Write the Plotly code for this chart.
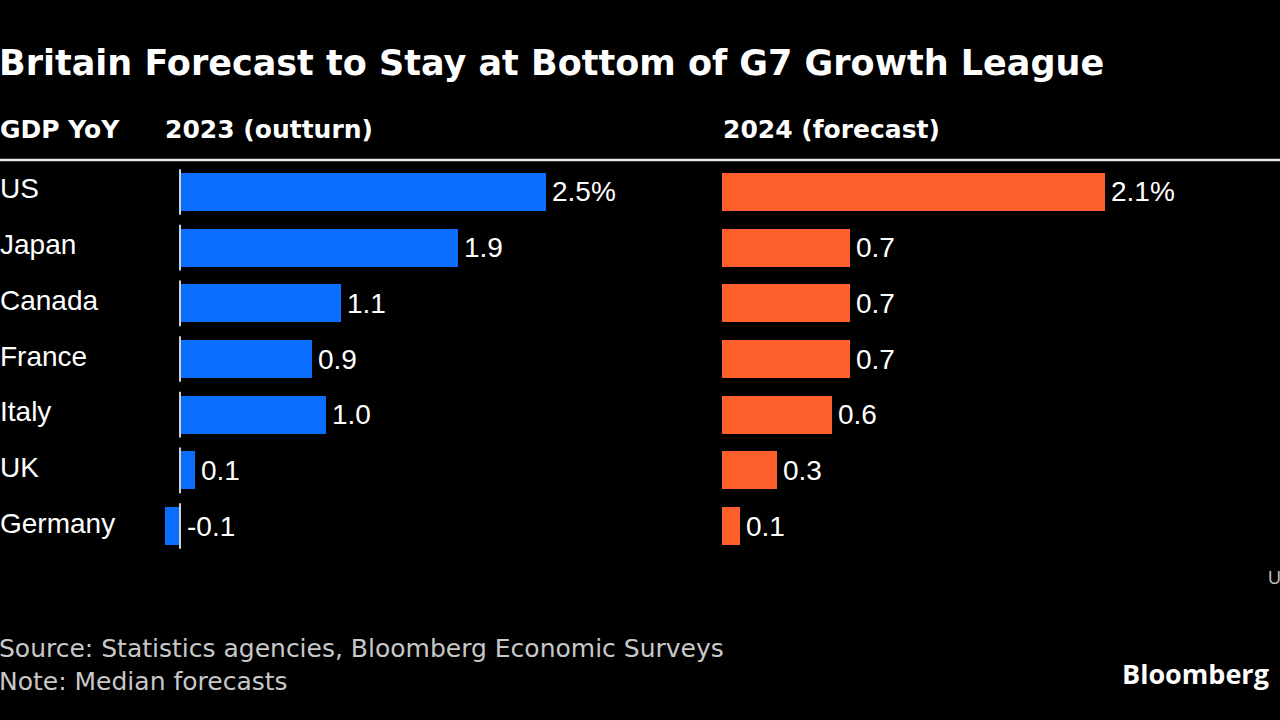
import plotly.graph_objects as go

countries = ["US", "Japan", "Canada", "France", "Italy", "UK", "Germany"]
gdp_2023 = [2.5, 1.9, 1.1, 0.9, 1.0, 0.1, -0.1]
gdp_2024 = [2.1, 0.7, 0.7, 0.7, 0.6, 0.3, 0.1]
labels_2023 = ["2.5%", "1.9", "1.1", "0.9", "1.0", "0.1", "-0.1"]
labels_2024 = ["2.1%", "0.7", "0.7", "0.7", "0.6", "0.3", "0.1"]

W, H = 1280, 720
BLUE = "#0A6EFF"
ORANGE = "#FF5F2B"
BOLD = "DejaVu Sans, Verdana, sans-serif"
REG = "Liberation Sans, Arial, Helvetica, sans-serif"

idx = list(range(len(countries)))

fig = go.Figure()
fig.add_trace(go.Bar(x=gdp_2023, y=idx, orientation="h", marker=dict(color=BLUE, line=dict(width=0)),
                     width=0.68, xaxis="x", yaxis="y", hoverinfo="skip"))
fig.add_trace(go.Bar(x=gdp_2024, y=idx, orientation="h", marker=dict(color=ORANGE, line=dict(width=0)),
                     width=0.68, xaxis="x2", yaxis="y", hoverinfo="skip"))

def px_x(p):
    return p / W

def px_y(p):
    return 1 - p / H

l0, l1, lz, ls = 150, 640, 180, 146.4
r0, r1, rz, rs = 700, 1280, 722, 182.5
top, bot, yc0, ysp = 165, 565, 192, 55.67

fig.update_layout(
    width=W, height=H,
    margin=dict(l=0, r=0, t=0, b=0),
    paper_bgcolor="black", plot_bgcolor="black",
    showlegend=False,
    bargap=0,
    xaxis=dict(domain=[px_x(l0), px_x(l1)], range=[(l0 - lz) / ls, (l1 - lz) / ls],
               visible=False, fixedrange=True),
    xaxis2=dict(domain=[px_x(r0), px_x(r1)], range=[(r0 - rz) / rs, (r1 - rz) / rs],
                visible=False, fixedrange=True, anchor="y"),
    yaxis=dict(domain=[px_y(bot), px_y(top)],
               range=[(bot - yc0) / ysp, (top - yc0) / ysp],
               visible=False, fixedrange=True),
)

ann = []
ann.append(dict(text="<b>Britain Forecast to Stay at Bottom of G7 Growth League</b>", x=px_x(-3), y=px_y(63),
                xref="paper", yref="paper", xanchor="left", yanchor="middle", showarrow=False,
                font=dict(family=BOLD, size=35, color="white")))
for txt, xp in [("GDP YoY", -2), ("2023 (outturn)", 163), ("2024 (forecast)", 721)]:
    ann.append(dict(text=f"<b>{txt}</b>", x=px_x(xp), y=px_y(129), xref="paper", yref="paper",
                    xanchor="left", yanchor="middle", showarrow=False,
                    font=dict(family=BOLD, size=25, color="white")))
for i, c in enumerate(countries):
    ann.append(dict(text=c, x=px_x(-2), y=i, xref="paper", yref="y", xanchor="left", yanchor="middle",
                    yshift=3, showarrow=False, font=dict(family=REG, size=28, color="white")))
for i, (v, t) in enumerate(zip(gdp_2023, labels_2023)):
    ann.append(dict(text=t, x=max(v, 0), y=i, xref="x", yref="y", xanchor="left", yanchor="middle",
                    xshift=4 if v >= 0 else 5, showarrow=False,
                    font=dict(family=REG, size=28, color="white")))
for i, (v, t) in enumerate(zip(gdp_2024, labels_2024)):
    ann.append(dict(text=t, x=max(v, 0), y=i, xref="x2", yref="y", xanchor="left", yanchor="middle",
                    xshift=4, showarrow=False, font=dict(family=REG, size=28, color="white")))
ann.append(dict(text="Source: Statistics agencies, Bloomberg Economic Surveys<br>Note: Median forecasts",
                x=px_x(-3), y=px_y(632), xref="paper", yref="paper", xanchor="left", yanchor="top",
                align="left", showarrow=False,
                font=dict(family="DejaVu Sans, sans-serif", size=25, color="#C8C8C8")))
ann.append(dict(text="<b>Bloomberg</b>", x=px_x(1271), y=px_y(673), xref="paper", yref="paper",
                xanchor="right", yanchor="middle", showarrow=False,
                font=dict(family="Open Sans, sans-serif", size=27, color="white")))
ann.append(dict(text="U", x=px_x(1266), y=px_y(578), xref="paper", yref="paper",
                xanchor="left", yanchor="middle", showarrow=False,
                font=dict(family=REG, size=18, color="#BBBBBB")))
fig.update_layout(annotations=ann)

shapes = [dict(type="line", xref="paper", yref="paper", x0=0, x1=1, y0=px_y(160), y1=px_y(160),
               line=dict(color="#E6E6E6", width=2.5))]
for i in idx:
    shapes.append(dict(type="line", xref="x", yref="y", x0=0, x1=0, y0=i - 0.41, y1=i + 0.41,
                       line=dict(color="#CFCFCF", width=2)))
fig.update_layout(shapes=shapes)

fig.write_html("out.html")
